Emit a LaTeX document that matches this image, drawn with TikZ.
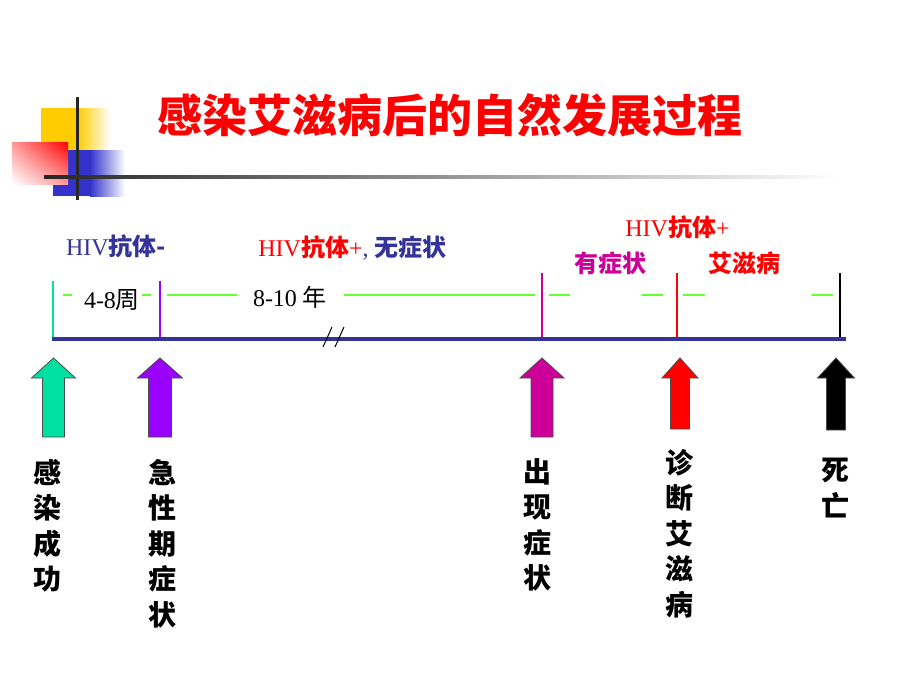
\documentclass[tikz,border=0pt]{standalone}
\usepackage{fontspec}
\usetikzlibrary{shadings}
\setmainfont{Liberation Serif}
\newfontfamily\cjk{Noto Sans CJK SC}
\definecolor{navy}{RGB}{51,51,153}
\definecolor{teal}{RGB}{0,224,160}
\definecolor{purp}{RGB}{153,0,255}
\definecolor{mag}{RGB}{204,0,153}
\definecolor{lgreen}{RGB}{102,255,51}
\definecolor{decoyellow}{RGB}{255,204,0}
\definecolor{decoblue}{RGB}{51,51,204}
\tikzset{
  lbl/.style={inner sep=0pt, font=\fontsize{24}{24}\selectfont},
  vlbl/.style={inner sep=0pt, anchor=north, align=center, font=\cjk\bfseries\fontsize{28}{35.5}\selectfont},
  gline/.style={lgreen, line width=2.5pt},
}
\begin{document}
\begin{tikzpicture}[x=1pt,y=-1pt]
        \useasboundingbox (0,0) rectangle (900,675);

        % Corner decoration
        \fill[decoyellow] (41,108) rectangle (78,150);
        \shade[left color=decoyellow, right color=white] (78,108) rectangle (110,150);
        \fill[decoblue] (53,150) rectangle (90,196);
        \shade[left color=decoblue, right color=white] (90,150) rectangle (125,196);
        \shade[upper right=red, lower left=white, upper left=red!40, lower right=red!40] (12,142) rectangle (68,184);
        \draw[line width=3pt, black!85] (77,97) -- (77,200);
        \shade[left color=black!85, middle color=black!55, right color=white] (44,175.5) rectangle (840,178.5);

        % Title
        \node[inner sep=0pt, text=red, font=\cjk\bfseries\fontsize{45}{45}\selectfont] (title) at (450,115) {感染艾滋病后的自然发展过程};

        % Time axis and ticks
        \coordinate (start) at (52,339);
        \coordinate (end) at (846,339);
        \draw[navy, line width=4pt] (start) -- (end);
        \foreach \x/\c/\t in {53/teal/281, 160/purp/281, 542/mag/273, 677/red/273, 840/black/273} {
            \coordinate (top\x) at (\x,\t);
            \coordinate (bot\x) at (\x,337);
            \draw[\c, line width=2.8pt] (top\x) -- (bot\x);
        }

        % Green dashes
        \foreach \a/\b in {63/72, 142/151, 167/237, 344/535, 549/570, 642/663, 683/705, 812/833} {
            \draw[gline] (\a,295) -- (\b,295);
        }
        \draw[line width=1pt] (323,347) -- (332,327);
        \draw[line width=1pt] (335,347) -- (344,327);

        % Stage labels
        \node[lbl, text=navy] (neg) at (116,246) {HIV{\cjk\bfseries 抗体-}};
        \node[lbl] (pos) at (352.5,248) {\textcolor{red}{HIV{\cjk\bfseries 抗体}+}\textcolor{navy}{, {\cjk\bfseries 无症状}}};
        \node[lbl, text=red] (pos2) at (677.5,227) {HIV{\cjk\bfseries 抗体}+};
        \node[lbl, text=mag] (sym) at (610,263) {\cjk\bfseries 有症状};
        \node[lbl, text=red] (aids) at (744,263) {\cjk\bfseries 艾滋病};
        \node[lbl] (weeks) at (112,300) {4-8{\cjk 周}};
        \node[lbl] (years) at (290,297) {8-10 {\cjk 年}};

        % Block arrows
        \foreach \x/\c/\b/\s/\h in {53.5/teal/437/11/22, 160/purp/437/11.5/22.5, 542/mag/437/11/22, 680/red/429/9.5/18, 836/black/430/9.5/18.5} {
            \filldraw[fill=\c, draw=black!70, line width=0.8pt]
                (\x-\s,\b) -- (\x-\s,378) -- (\x-\h,378) -- (\x,358)
                -- (\x+\h,378) -- (\x+\s,378) -- (\x+\s,\b) -- cycle;
        }

        % Event labels
        \foreach \x/\y/\t/\n in {48/459/{感\\染\\成\\功}/infect, 162/459/{急\\性\\期\\症\\状}/acute,
                                 537/458/{出\\现\\症\\状}/onset, 679/449/{诊\\断\\艾\\滋\\病}/diag,
                                 835/458/{死\\亡}/death} {
            \node[vlbl] (\n) at (\x,\y) {\t};
        }
    \end{tikzpicture}
\end{document}
